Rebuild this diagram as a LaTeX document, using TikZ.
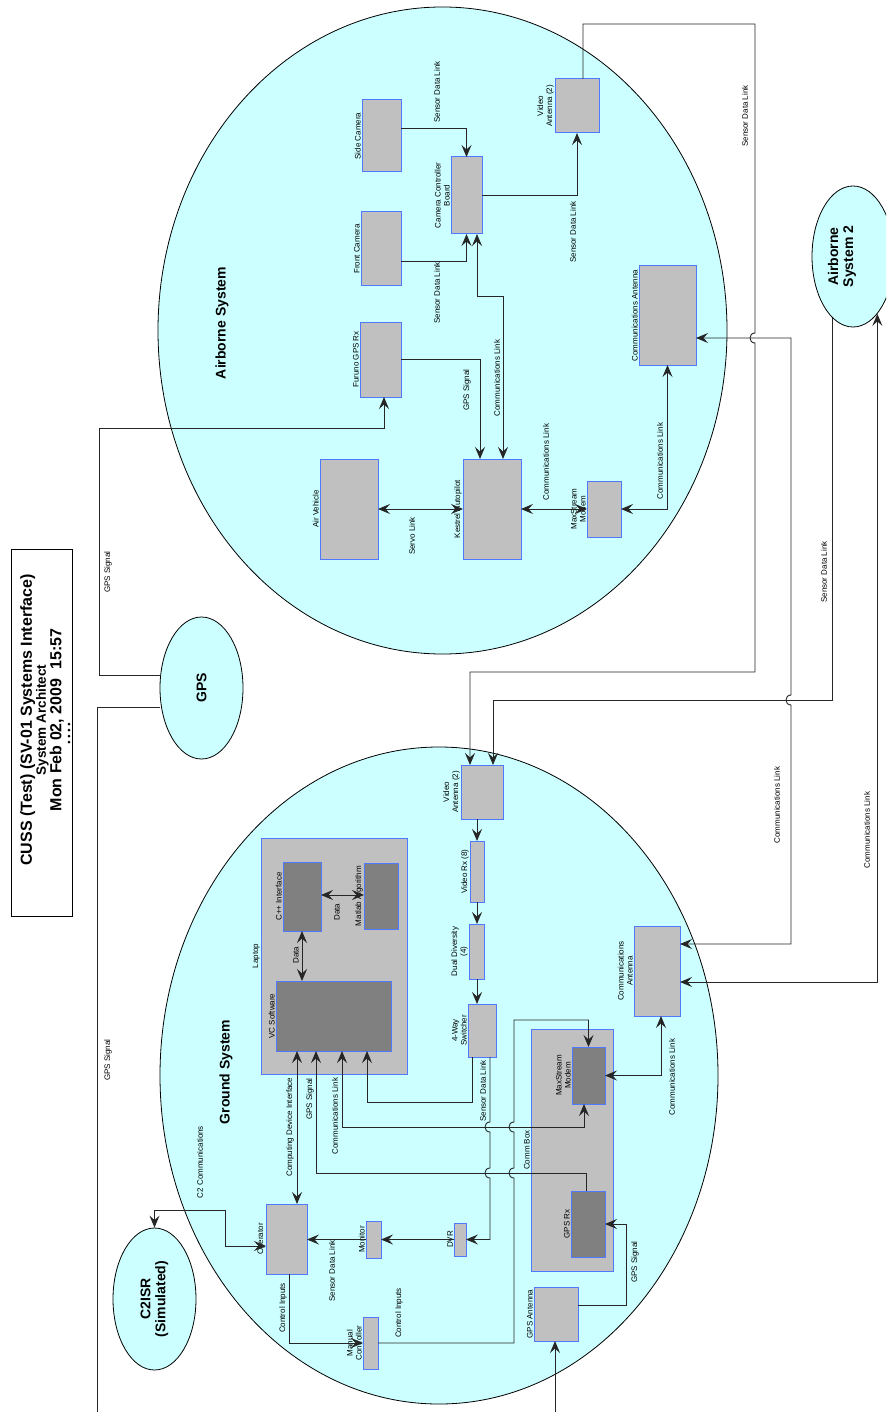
\documentclass[tikz,border=0pt]{standalone}
\usepackage{fontspec}
\setmainfont{Liberation Sans}
\usetikzlibrary{shapes.geometric,arrows.meta}
\definecolor{skyfill}{HTML}{CCFFFF}
\definecolor{blkgray}{HTML}{C0C0C0}
\definecolor{blkdark}{HTML}{808080}
\definecolor{blkedge}{HTML}{5079FF}
\begin{document}
\begin{tikzpicture}[x=1pt,y=-1pt,
  blk/.style={draw=blkedge,fill=blkgray,line width=1pt,inner sep=0pt,outer sep=0pt},
  dblk/.style={blk,fill=blkdark},
  ell/.style={ellipse,draw=black,fill=skyfill,line width=0.8pt,inner sep=0pt},
  lbl/.style={rotate=90,font=\fontsize{8}{9}\selectfont,inner sep=1pt,align=center},
  big/.style={rotate=90,font=\fontsize{14}{15}\selectfont\bfseries,align=center},
  wire/.style={line width=0.9pt,draw=black!85},
  arr/.style={wire,-{Stealth[length=12pt,width=10pt,inset=4.5pt]}},
  darr/.style={wire,{Stealth[length=12pt,width=10pt,inset=4.5pt]}-{Stealth[length=12pt,width=10pt,inset=4.5pt]}}]
\useasboundingbox (0,0) rectangle (886,1412);
\clip (0,0) rectangle (886,1412);
\fill[white] (0,0) rectangle (886,1412);

% title
\node[draw,line width=1pt,minimum width=61,minimum height=367,inner sep=0pt] (titlebox) at (42,732.5) {};
\node[rotate=90,align=center,font=\bfseries] (title) at (42,720) {\fontsize{16}{14.5}\selectfont CUSS (Test) (SV-01 Systems Interface)\\\fontsize{13.5}{14.5}\selectfont System Architect\\\fontsize{16}{14.5}\selectfont Mon Feb 02, 2009~~15:57};
\foreach \d in {724,730,736,742} \fill (69,\d) circle (1.5);

% systems
\node[ell,minimum width=569,minimum height=647] (airsys) at (442.5,330.5) {};
\node[ell,minimum width=558,minimum height=657] (gndsys) at (439,1075.5) {};
\node[ell,minimum width=83,minimum height=142] (gps) at (201.5,688) {};
\node[ell,minimum width=82,minimum height=141] (air2) at (853,256.5) {};
\node[ell,minimum width=83,minimum height=142] (c2isr) at (154.5,1299) {};
\node[big] (gps-t) at (201.5,688) {GPS};
\node[big] (air2-t) at (842,256.5) {Airborne\\System 2};
\node[big] (c2isr-t) at (154.5,1299) {C2ISR\\(Simulated)};
\node[big] (airsys-t) at (222,323) {Airborne System};
\node[big] (gndsys-t) at (226,1072) {Ground System};

% airborne blocks
\node[blk,minimum width=39,minimum height=72] (sidecam) at (381.5,136) {};
\node[blk,minimum width=40,minimum height=74] (frontcam) at (381,249) {};
\node[blk,minimum width=31,minimum height=77] (ccb) at (466.5,195.5) {};
\node[blk,minimum width=44,minimum height=54] (avant) at (577,106) {};
\node[blk,minimum width=41,minimum height=75] (furuno) at (380.5,359.5) {};
\node[blk,minimum width=58,minimum height=100] (airveh) at (349,509) {};
\node[blk,minimum width=58,minimum height=100] (kestrel) at (492,509) {};
\node[blk,minimum width=34,minimum height=56] (amodem) at (604,509) {};
\node[blk,minimum width=57,minimum height=99] (acomm) at (667.5,315.5) {};

% ground blocks
\node[blk,minimum width=42,minimum height=54] (gvant) at (482,792) {};
\node[blk,minimum width=146,minimum height=236] (laptop) at (334,956) {};
\node[dblk,minimum width=38,minimum height=69] (cpp) at (302,896.5) {};
\node[dblk,minimum width=34,minimum height=66] (matlab) at (381,896) {};
\node[dblk,minimum width=115,minimum height=70] (vcsw) at (333.5,1016) {};
\node[blk,minimum width=14,minimum height=61] (vrx) at (477,871.5) {};
\node[blk,minimum width=15,minimum height=55] (ddiv) at (476.5,951.5) {};
\node[blk,minimum width=28,minimum height=53] (switch) at (482,1030.5) {};
\node[blk,minimum width=82,minimum height=242] (commbox) at (572,1150) {};
\node[dblk,minimum width=33,minimum height=57] (gmodem) at (588.5,1075.5) {};
\node[dblk,minimum width=34,minimum height=66] (gpsrx) at (588,1224) {};
\node[blk,minimum width=46,minimum height=90] (gcomm) at (657,971) {};
\node[blk,minimum width=44,minimum height=54] (gpsant) at (556,1314) {};
\node[blk,minimum width=12,minimum height=33] (dvr) at (460,1239.5) {};
\node[blk,minimum width=15,minimum height=37] (monitor) at (373.5,1239.5) {};
\node[blk,minimum width=41,minimum height=70] (operator) at (286.5,1239) {};
\node[blk,minimum width=15,minimum height=52] (manctl) at (370.5,1343) {};

% block names
\node[lbl,anchor=south] (sidecam-t) at (sidecam.west) {Side Camera};
\node[lbl,anchor=south] (frontcam-t) at (frontcam.west) {Front Camera};
\node[lbl,anchor=south] (ccb-t) at (ccb.west) {Camera Controller\\Board};
\node[lbl,anchor=south] (avant-t) at (avant.west) {Video\\Antenna (2)};
\node[lbl,anchor=south] (furuno-t) at (furuno.west) {Furuno GPS Rx};
\node[lbl,anchor=south] (airveh-t) at (airveh.west) {Air Vehicle};
\node[lbl,anchor=south] (kestrel-t) at (kestrel.west) {Kestrel Autopilot};
\node[lbl,anchor=south] (amodem-t) at (amodem.west) {MaxStream\\Modem};
\node[lbl,anchor=south] (acomm-t) at (acomm.west) {Communications Antenna};
\node[lbl,anchor=south] (gvant-t) at (gvant.west) {Video\\Antenna (2)};
\node[lbl,anchor=south] (laptop-t) at (laptop.west) {Laptop};
\node[lbl,anchor=south] (cpp-t) at (cpp.west) {C++ Interface};
\node[lbl,anchor=south] (matlab-t) at (matlab.west) {Matlab Algorithm};
\node[lbl,anchor=south] (vcsw-t) at (vcsw.west) {VC Software};
\node[lbl,anchor=south] (vrx-t) at (vrx.west) {Video Rx (8)};
\node[lbl,anchor=south] (ddiv-t) at (ddiv.west) {Dual Diversity\\(4)};
\node[lbl,anchor=south] (switch-t) at (switch.west) {4-Way\\Switcher};
\node[lbl,anchor=south] (commbox-t) at (commbox.west) {Comm Box};
\node[lbl,anchor=south] (gmodem-t) at (gmodem.west) {MaxStream\\Modem};
\node[lbl,anchor=south] (gpsrx-t) at (gpsrx.west) {GPS Rx};
\node[lbl,anchor=south] (gcomm-t) at (gcomm.west) {Communications\\Antenna};
\node[lbl,anchor=south] (gpsant-t) at (gpsant.west) {GPS Antenna};
\node[lbl,anchor=south] (dvr-t) at (dvr.west) {DVR};
\node[lbl,anchor=south] (monitor-t) at (monitor.west) {Monitor};
\node[lbl,anchor=south] (operator-t) at (operator.west) {Operator};
\node[lbl,anchor=south] (manctl-t) at (manctl.west) {Manual\\Controller};

% airborne links
\draw[arr] (sidecam.east |- 0,128) -| (ccb.north);
\draw[arr] (frontcam.east |- 0,261) -| (ccb.south);
\draw[arr] (ccb.east) -| (avant.south);
\draw[darr] (ccb.south -| 477,0) |- (503,296) -- (kestrel.north -| 503,0);
\draw[arr] (furuno.east) -| (kestrel.north -| 480,0);
\draw[darr] (airveh.east) -- (kestrel.west);
\draw[darr] (kestrel.east) -- (amodem.west);
\draw[darr] (amodem.east) -| (acomm.south);

% between systems
\coordinate (gpsexit) at (97,1412);
\coordinate (gpsentry) at (555,1412);
\draw[arr] (gps.west |- 0,675) -| (99,428) -| (furuno.south -| 384,0);
\draw[wire] (gps.west |- 0,707) -| (gpsexit);
\draw[arr] (gpsentry) -- (gpsant.south -| gpsentry);
\draw[arr] (avant.north -| 583,0) |- (755,24) -- (755,333) .. controls (748.3,333) and (748.3,343) .. (755,343) -- (755,672) -| (gvant.north -| 470,0);
\draw[darr] (acomm.east |- 0,338) -- (791,338) -- (791,695) .. controls (784.3,695) and (784.3,705) .. (791,705) -- (791,944) -- (gcomm.east |- 0,944);
\draw[arr] (air2.252) |- (493,700) -- (gvant.north -| 493,0);
\draw[darr] (gcomm.east |- 0,982) -| (air2.293);
\draw[darr] (operator.west |- 0,1246) -| (225,1210) -| (c2isr.north);

% ground links
\draw[arr] (gvant.south -| vrx.north) -- (vrx.north);
\draw[arr] (vrx.south) -- (ddiv.north -| vrx.south);
\draw[arr] (ddiv.south -| vrx.south) -- (switch.north -| vrx.south);
\draw[arr] (switch.south -| 472,0) |- (367,1102) -- (vcsw.south -| 367,0);
\draw[arr] (switch.south -| 490,0) -- (490,1122) .. controls (483.3,1122) and (483.3,1132) .. (490,1132) -- (490,1168) .. controls (483.3,1168) and (483.3,1178) .. (490,1178) |- (dvr.east);
\draw[arr] (dvr.west) -- (monitor.east);
\draw[arr] (monitor.west) -- (operator.east |- monitor.west);
\draw[arr] (operator.south -| 289,0) |- (manctl.west);
\draw[arr] (manctl.east) -| (514,1178) .. controls (507.3,1178) and (507.3,1168) .. (514,1168) -- (514,1132) .. controls (507.3,1132) and (507.3,1122) .. (514,1122) |- (588.5,1020) -- (gmodem.north);
\draw[darr] (vcsw.south -| 297,0) -- (operator.north -| 297,0);
\draw[arr] (gpsrx.north -| 586,0) |- (316,1173) -- (vcsw.south -| 316,0);
\draw[darr] (gmodem.south -| 584,0) |- (342,1127) -- (vcsw.south -| 342,0);
\draw[darr] (gmodem.east) -| (gcomm.south -| 661,0);
\draw[arr] (gpsant.east |- 0,1305) -| (626,1224) -- (gpsrx.east);
\draw[darr] (cpp.east |- 0,895) -- (matlab.west |- 0,895);
\draw[darr] (cpp.south) -- (vcsw.north -| cpp.south);

% link names
\node[lbl] (l1) at (437,92) {Sensor Data Link};
\node[lbl] (l2) at (437,293) {Sensor Data Link};
\node[lbl] (l3) at (573,232) {Sensor Data Link};
\node[lbl] (l4) at (497,378) {Communications Link};
\node[lbl] (l5) at (467,390) {GPS Signal};
\node[lbl] (l6) at (412,536) {Servo Link};
\node[lbl] (l7) at (546,462) {Communications Link};
\node[lbl] (l8) at (660,461) {Communications Link};
\node[lbl] (l9) at (108,572) {GPS Signal};
\node[lbl] (l10) at (108,1060) {GPS Signal};
\node[lbl] (l11) at (745,116) {Sensor Data Link};
\node[lbl] (l12) at (777,805) {Communications Link};
\node[lbl] (l13) at (824,572) {Sensor Data Link};
\node[lbl] (l14) at (867,830) {Communications Link};
\node[lbl] (l15) at (337,912) {Data};
\node[lbl] (l16) at (296,955) {Data};
\node[lbl] (l17) at (483,1091) {Sensor Data Link};
\node[lbl] (l18) at (290,1127) {Computing Device Interface};
\node[lbl] (l19) at (310,1099) {GPS Signal};
\node[lbl] (l20) at (335,1116) {Communications Link};
\node[lbl] (l21) at (332,1271) {Sensor Data Link};
\node[lbl] (l22) at (283,1308) {Control Inputs};
\node[lbl] (l23) at (399,1313) {Control Inputs};
\node[lbl] (l24) at (200,1162) {C2 Communications};
\node[lbl] (l25) at (635,1262) {GPS Signal};
\node[lbl] (l26) at (672,1077) {Communications Link};
\end{tikzpicture}
\end{document}
